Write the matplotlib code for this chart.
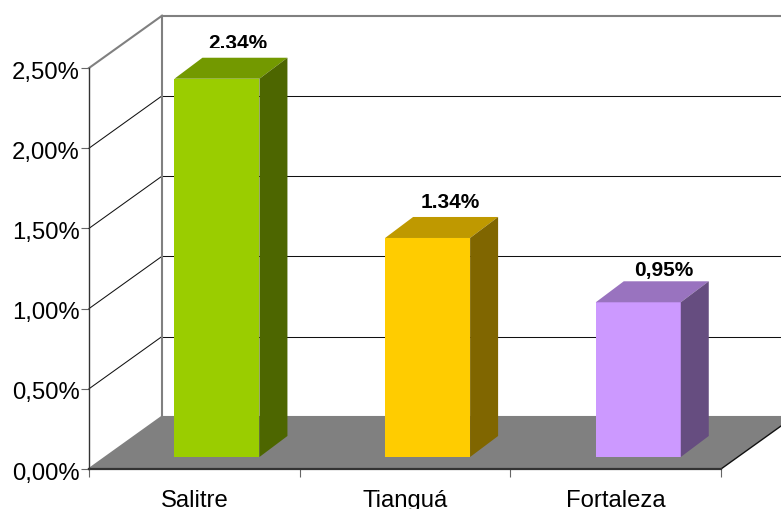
import matplotlib
matplotlib.use("Agg")
import matplotlib.pyplot as plt
from matplotlib.patches import Polygon
from matplotlib.transforms import Bbox, ScaledTranslation

categories = ["Salitre", "Tianguá", "Fortaleza"]
values = [2.335, 1.352, 0.955]
value_labels = ["2.34%", "1.34%", "0,95%"]
y_ticks = [0.0, 0.5, 1.0, 1.5, 2.0, 2.5]
y_tick_labels = ["0,00%", "0,50%", "1,00%", "1,50%", "2,00%", "2,50%"]
front_colors = ["#9ACD00", "#FFCC00", "#CC99FF"]
top_colors = ["#739900", "#BF9900", "#9973BF"]
side_colors = ["#4D6600", "#806600", "#664D80"]

W, H = 781, 509
plt.rcParams["font.family"] = ["Liberation Sans", "DejaVu Sans"]
fig = plt.figure(figsize=(W / 100, H / 100), dpi=100)
ax = fig.add_axes([89 / W, 1 - 469 / H, 632 / W, 401 / H])
ax.set_xlim(0, 3)
ax.set_ylim(0, 2.5)

px = 3 / 632    # one pixel in x data units
py = 2.5 / 401  # one pixel in y data units
DX, DY = 73 * px, 52.3 * py        # depth of the chart box
BDX, BDY = 28 * px, 21 * py        # depth of a bar
BASE = 12 * py                     # bar foot above the front edge
BW = 85 * px
SHIFT = 22.6 * px
YS = 162 / 160.4

# floor
ax.add_patch(Polygon([(0, 0), (3, 0), (3 + DX, DY), (DX, DY)], closed=True,
                     fc="#808080", ec="none", clip_on=False, zorder=1))
ax.plot([3, 3 + DX], [0, DY], color="#111111", lw=1, clip_on=False, zorder=2)

# walls
for v in y_ticks:
    c, lw = ("#808080", 2) if v in (y_ticks[0], y_ticks[-1]) else ("#111111", 1)
    ax.plot([0, DX], [v, v + DY], color=c, lw=lw * 0.75, clip_on=False, zorder=2)
    ax.plot([DX, 3 + DX], [v + DY, v + DY], color=c, lw=lw * 0.75, clip_on=False, zorder=2)
ax.plot([DX, DX], [DY, 2.5 + DY], color="#808080", lw=1.5, clip_on=False, zorder=2)

# bars
for i, v in enumerate(values):
    x0 = i + 0.5 + SHIFT - BW / 2
    x1 = x0 + BW
    y0 = BASE
    y1 = BASE + v * YS
    ax.add_patch(Polygon([(x0, y0), (x1, y0), (x1, y1), (x0, y1)], closed=True,
                         fc=front_colors[i], ec="none", clip_on=False, zorder=3))
    ax.add_patch(Polygon([(x0, y1), (x1, y1), (x1 + BDX, y1 + BDY), (x0 + BDX, y1 + BDY)],
                         closed=True, fc=top_colors[i], ec="none", clip_on=False, zorder=3))
    ax.add_patch(Polygon([(x1, y0), (x1 + BDX, y0 + BDY), (x1 + BDX, y1 + BDY), (x1, y1)],
                         closed=True, fc=side_colors[i], ec="none", clip_on=False, zorder=3))

# value labels
label_dx = [20.5, 22.5, 25.0]
label_dy = [9, 8.5, 5.5]
for i, v in enumerate(values):
    xc = i + 0.5 + SHIFT + label_dx[i] * px
    yt = BASE + v * YS + BDY + label_dy[i] * py
    t = ax.text(xc, yt, value_labels[i], ha="center", va="baseline",
                fontsize=15, fontweight="bold", color="black", zorder=5)
    if i == 0:
        t.set_clip_on(True)
        t.set_clip_box(Bbox([[0, H - 48], [W, H]]))
    else:
        t.set_clip_on(False)

# axes
for s in ("top", "right"):
    ax.spines[s].set_visible(False)
ax.patch.set_visible(False)
ax.spines["left"].set_color("#333333")
ax.spines["left"].set_linewidth(1)
ax.spines["bottom"].set_color("#333333")
ax.spines["bottom"].set_linewidth(1.6)
ax.set_yticks(y_ticks)
ax.set_yticklabels(y_tick_labels, fontsize=17.2, color="black")
ax.set_xticks([0, 1, 2, 3])
ax.set_xticklabels([])
ax.set_xticks([0.5, 1.5, 2.5], minor=True)
ax.set_xticklabels(categories, minor=True, fontsize=17.2, color="black")
ax.tick_params(axis="y", which="major", length=5.8, width=0.8, color="#666666", pad=0.8)
ax.tick_params(axis="x", which="major", length=5.8, width=0.8, color="#666666")
ax.tick_params(axis="x", which="minor", length=0, pad=15)
down = ScaledTranslation(0, -1.5 / 72, fig.dpi_scale_trans)
for lab in ax.get_yticklabels():
    lab.set_transform(lab.get_transform() + down)
for sp in ax.spines.values():
    sp.set_zorder(4)

fig.savefig("out.png", dpi=100, facecolor="white")
